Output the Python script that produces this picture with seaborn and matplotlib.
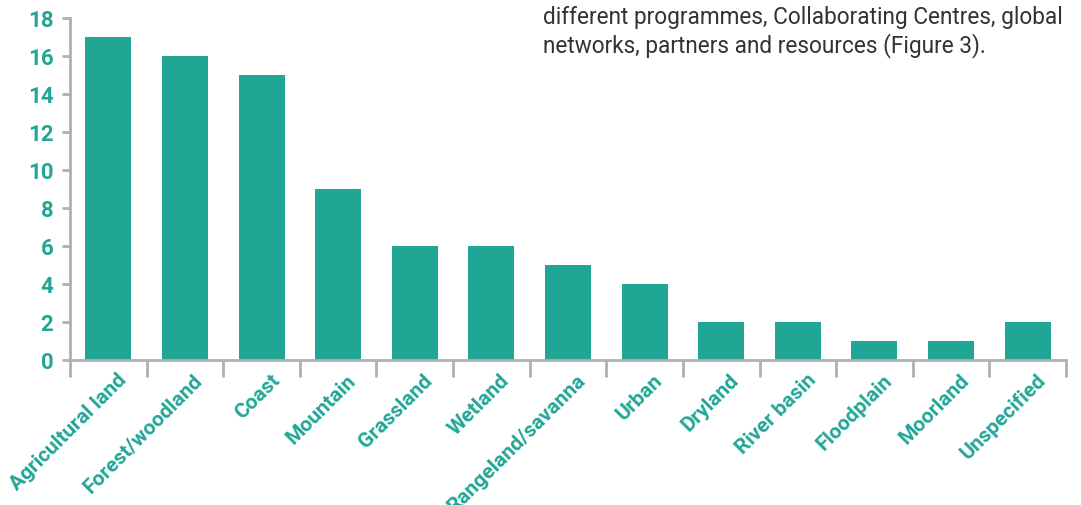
import matplotlib
matplotlib.use("Agg")
import matplotlib.pyplot as plt
import matplotlib.transforms as mtransforms
import pandas as pd
import seaborn as sns

# 数据
categories = ["Agricultural land", "Forest/woodland", "Coast", "Mountain", "Grassland",
              "Wetland", "Rangeland/savanna", "Urban", "Dryland", "River basin",
              "Floodplain", "Moorland", "Unspecified"]
counts = [17, 16, 15, 9, 6, 6, 5, 4, 2, 2, 1, 1, 2]
y_ticks = [0, 2, 4, 6, 8, 10, 12, 14, 16, 18]

teal = "#21a696"
axis_grey = "#b0afb4"

sns.set_style("white")
plt.rcParams['font.family'] = ['Roboto', 'DejaVu Sans']

df = pd.DataFrame({"habitat": categories, "n": counts})

fig = plt.figure(figsize=(10.81, 5.06), dpi=100)
ax = fig.add_axes([0.0648, 0.2866, 0.9213, 0.6759])

sns.barplot(data=df, x="habitat", y="n", color=teal, width=0.6,
            saturation=1, edgecolor="none", ax=ax)

ax.set_xlim(-0.5, len(categories) - 0.5)
ax.set_ylim(0, 18)
ax.set_yticks(y_ticks)
ax.set_xlabel("")
ax.set_ylabel("")

for s in ["top", "right"]:
    ax.spines[s].set_visible(False)
for s in ["left", "bottom"]:
    ax.spines[s].set_color(axis_grey)
    ax.spines[s].set_linewidth(2)

# 类别之间的分隔刻度
ax.set_xticks(range(len(categories)))
ax.set_xticks([i - 0.5 for i in range(len(categories) + 1)], minor=True)
ax.tick_params(axis="x", which="both", bottom=True)
ax.tick_params(axis="x", which="minor", length=12, width=2, color=axis_grey, direction="out")
ax.tick_params(axis="x", which="major", length=0, pad=7)
ax.tick_params(axis="y", left=True, length=6, width=2, color=axis_grey, pad=6)

ax.set_xticklabels(categories, rotation=45, ha="right", rotation_mode="anchor",
                   color=teal, fontsize=15, fontweight="bold")
offset = mtransforms.ScaledTranslation(6 / 72, 0, fig.dpi_scale_trans)
for lab in ax.get_xticklabels():
    lab.set_transform(lab.get_transform() + offset)
for lab in ax.get_yticklabels():
    lab.set_color(teal)
    lab.set_fontsize(16)
    lab.set_fontweight("bold")

fig.text(0.502, 0.988,
         "different programmes, Collaborating Centres, global\nnetworks, partners and resources (Figure 3).",
         ha="left", va="top", fontsize=16.3, color="#333333", linespacing=1.2)

plt.savefig("out.png", dpi=100)
